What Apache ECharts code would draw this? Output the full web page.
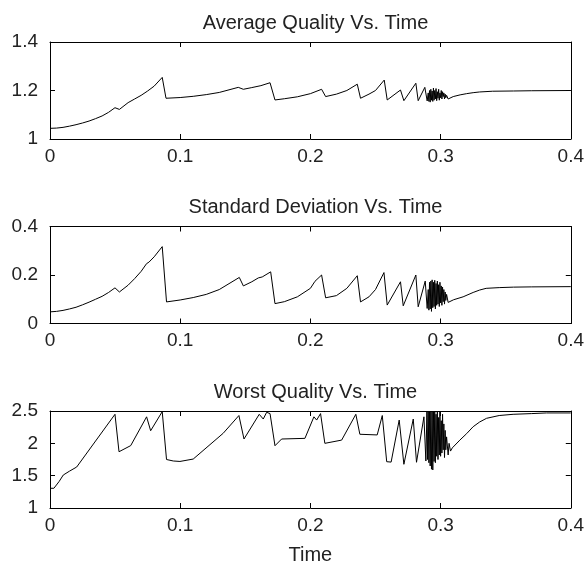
<!DOCTYPE html>
<html>
<head>
<meta charset="utf-8">
<script src="https://cdn.jsdelivr.net/npm/echarts@6/dist/echarts.min.js"></script>
<style>
html,body{margin:0;padding:0;background:#fff;}
#chart{width:587px;height:566px;}
</style>
</head>
<body>
<div id="chart"></div>
<script>
// ---- Data ----
var titles = ['Average Quality Vs. Time', 'Standard Deviation Vs. Time', 'Worst Quality Vs. Time'];
var xTicks = [0, 0.1, 0.2, 0.3, 0.4];
var yRanges = [[1, 1.4, 0.2], [0, 0.4, 0.2], [1, 2.5, 0.5]];

var avgT = [0,0.005,0.01,0.015,0.02,0.025,0.03,0.035,0.04,0.045,0.0499,0.0533,0.06,0.065,0.07,0.075,0.08,0.0862,0.0891,0.1,0.11,0.12,0.13,0.1446,0.1485,0.155,0.162,0.169,0.1728,0.18,0.19,0.2,0.2086,0.2117,0.22,0.228,0.236,0.2385,0.245,0.25,0.2567,0.259,0.2692,0.2718,0.281,0.2828,0.2879,0.2897,
0.2905,0.291,0.2915,0.292,0.2925,0.293,0.2935,0.294,0.2945,0.295,0.2955,0.296,0.2965,0.297,0.2975,0.298,0.2985,0.299,0.2995,0.3,0.3005,0.301,0.3015,0.302,0.3025,0.303,0.3035,0.304,0.3046,
0.3058,0.3097,0.315,0.32,0.325,0.33,0.34,0.356,0.37,0.4];
var avgQ = [1.044,1.045,1.048,1.053,1.059,1.066,1.074,1.084,1.095,1.11,1.129,1.122,1.15,1.165,1.18,1.198,1.218,1.254,1.168,1.171,1.176,1.183,1.192,1.213,1.205,1.212,1.22,1.232,1.161,1.166,1.174,1.187,1.205,1.175,1.185,1.2,1.226,1.168,1.185,1.2,1.243,1.161,1.202,1.158,1.23,1.158,1.213,1.157,
1.19,1.155,1.2,1.152,1.205,1.16,1.198,1.155,1.21,1.16,1.2,1.165,1.208,1.158,1.195,1.168,1.205,1.16,1.19,1.17,1.2,1.165,1.195,1.175,1.19,1.165,1.185,1.17,1.18,
1.165,1.175,1.182,1.187,1.191,1.194,1.197,1.198,1.199,1.2];

var sdT = [0,0.005,0.01,0.015,0.02,0.025,0.03,0.035,0.04,0.045,0.0499,0.0533,0.06,0.065,0.07,0.0742,0.076,0.08,0.0862,0.0895,0.1,0.11,0.12,0.13,0.1454,0.1485,0.155,0.16,0.163,0.1695,0.1728,0.18,0.19,0.2,0.2035,0.205,0.2086,0.2117,0.22,0.228,0.236,0.2385,0.245,0.25,0.2565,0.259,0.2692,0.2713,0.281,0.2828,0.2882,0.2897,
0.2905,0.291,0.2915,0.292,0.2925,0.293,0.2935,0.294,0.2945,0.295,0.2955,0.296,0.2965,0.297,0.2975,0.298,0.2985,0.299,0.2995,0.3,0.3005,0.301,0.3015,0.302,0.3025,0.303,0.3035,0.304,0.3046,
0.3058,0.31,0.3173,0.325,0.33,0.335,0.345,0.356,0.37,0.4];
var sdV = [0.048,0.05,0.054,0.06,0.067,0.077,0.088,0.1,0.112,0.128,0.147,0.13,0.158,0.185,0.215,0.247,0.253,0.275,0.317,0.089,0.097,0.107,0.12,0.14,0.19,0.155,0.172,0.188,0.192,0.213,0.082,0.09,0.11,0.145,0.174,0.178,0.2,0.106,0.115,0.145,0.197,0.089,0.11,0.14,0.21,0.076,0.172,0.073,0.2,0.069,0.175,0.062,
0.14,0.055,0.17,0.06,0.175,0.05,0.18,0.065,0.17,0.07,0.178,0.06,0.165,0.075,0.175,0.08,0.16,0.07,0.17,0.085,0.155,0.075,0.15,0.09,0.14,0.08,0.13,0.095,0.12,
0.087,0.098,0.11,0.128,0.138,0.145,0.148,0.15,0.151,0.152];

var worstT = [0,0.003,0.007,0.0102,0.015,0.0205,0.0499,0.053,0.062,0.0742,0.0773,0.0862,0.0895,0.0947,0.0998,0.11,0.133,0.1451,0.149,0.1607,0.1638,0.1664,0.169,0.1728,0.1779,0.1958,0.2027,0.2048,0.2078,0.2111,0.224,0.2349,0.238,0.2513,0.2552,0.2586,0.262,0.2682,0.2718,0.279,0.2815,0.2872,0.2887,
0.2895,0.29,0.2905,0.291,0.2915,0.292,0.2925,0.293,0.2935,0.294,0.2945,0.295,0.2955,0.296,0.2965,0.297,0.2975,0.298,0.2985,0.299,0.2995,0.3,0.3005,0.301,0.3015,0.302,0.3025,0.303,0.3035,0.304,0.3046,
0.3058,0.3065,0.3076,0.309,0.3148,0.32,0.325,0.33,0.3353,0.345,0.3557,0.37,0.3813,0.4];
var worstQ = [1.305,1.305,1.41,1.51,1.57,1.634,2.449,1.87,1.965,2.41,2.195,2.49,1.75,1.727,1.72,1.757,2.155,2.43,2.067,2.449,2.376,2.48,2.46,1.963,2.067,2.077,2.41,2.36,2.46,2.0,2.05,2.449,2.14,2.13,2.43,1.716,1.71,2.36,1.676,2.376,1.707,2.41,1.727,
2.5,1.75,2.5,1.7,2.5,1.65,2.5,1.6,2.5,1.588,2.5,1.72,2.5,1.7,2.45,1.8,2.5,1.75,2.4,1.82,2.5,1.8,2.35,1.85,2.45,1.9,2.3,1.78,2.2,1.9,2.1,
1.82,2.0,1.88,1.93,2.05,2.15,2.257,2.33,2.387,2.43,2.449,2.46,2.47,2.47];

// ---- Chart ----
var FONT = '"Liberation Sans", Arial, Helvetica, sans-serif';
var TXT = '#222';
var gridTops = [42, 226.5, 411];
var seriesData = [
  avgT.map(function(t, i){ return [t, avgQ[i]]; }),
  sdT.map(function(t, i){ return [t, sdV[i]]; }),
  worstT.map(function(t, i){ return [t, worstQ[i]]; })
];

var grids = [], xAxes = [], yAxes = [], series = [], title = [];
for (var k = 0; k < 3; k++) {
  grids.push({left: 50, width: 521, top: gridTops[k], height: 97, show: false});
  title.push({
    text: titles[k], left: 310.5, top: gridTops[k] - 34, textAlign: 'center',
    textStyle: {fontFamily: FONT, fontSize: 20, fontWeight: 'normal', color: TXT}
  });
  var axisLine = {show: true, onZero: false, lineStyle: {color: '#000', width: 1}};
  var tick = {show: true, inside: true, length: 5, lineStyle: {color: '#000', width: 1}};
  xAxes.push({
    type: 'value', gridIndex: k, min: xTicks[0], max: xTicks[xTicks.length - 1], interval: 0.1,
    position: 'bottom', axisLine: axisLine, axisTick: tick, splitLine: {show: false},
    axisLabel: {show: true, margin: 8, fontFamily: FONT, fontSize: 19, color: TXT,
      formatter: function(v){ return String(+v.toFixed(2)); }},
    name: k === 2 ? 'Time' : '', nameLocation: 'middle', nameGap: 37,
    nameTextStyle: {fontFamily: FONT, fontSize: 20, color: TXT}
  });
  xAxes.push({
    type: 'value', gridIndex: k, min: xTicks[0], max: xTicks[xTicks.length - 1], interval: 0.1,
    position: 'top', axisLine: axisLine, axisTick: tick, splitLine: {show: false},
    axisLabel: {show: false}
  });
  var yr = yRanges[k];
  yAxes.push({
    type: 'value', gridIndex: k, min: yr[0], max: yr[1], interval: yr[2],
    position: 'left', axisLine: axisLine, axisTick: tick, splitLine: {show: false},
    axisLabel: {show: true, margin: 12, fontFamily: FONT, fontSize: 19, color: TXT,
      formatter: function(v){ return String(+v.toFixed(2)); }}
  });
  yAxes.push({
    type: 'value', gridIndex: k, min: yr[0], max: yr[1], interval: yr[2],
    position: 'right', axisLine: axisLine, axisTick: tick, splitLine: {show: false},
    axisLabel: {show: false}
  });
  series.push({
    type: 'line', xAxisIndex: 2 * k, yAxisIndex: 2 * k, data: seriesData[k],
    showSymbol: false, symbol: 'none', clip: true,
    lineStyle: {color: '#000', width: 1}, silent: true
  });
}

var chart = echarts.init(document.getElementById('chart'), null, {renderer: 'canvas'});
chart.setOption({
  animation: false,
  backgroundColor: '#fff',
  title: title,
  grid: grids,
  xAxis: xAxes,
  yAxis: yAxes,
  series: series
});
</script>
</body>
</html>
